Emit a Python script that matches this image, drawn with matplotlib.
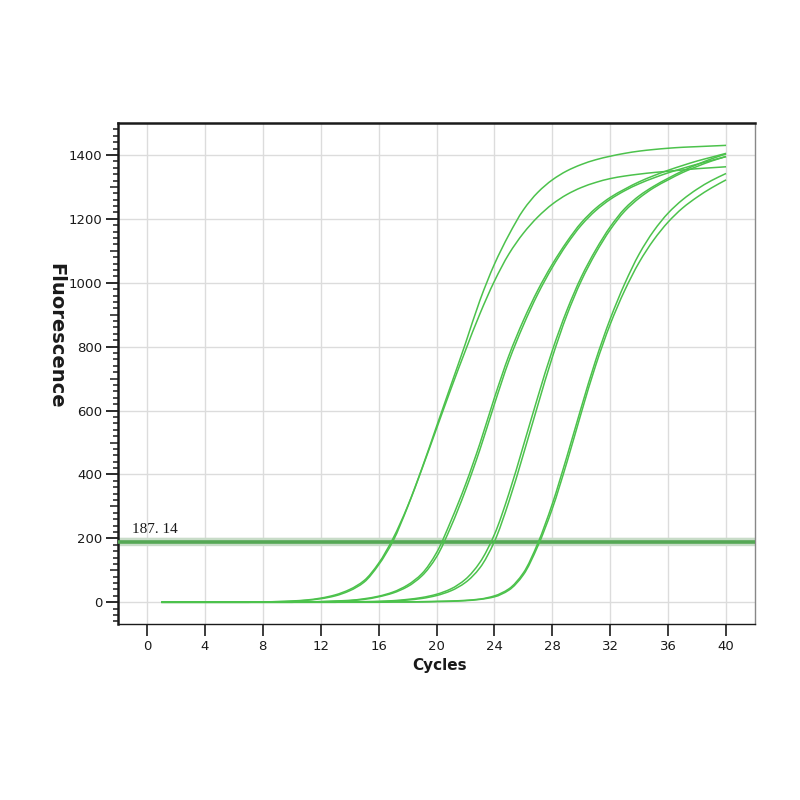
import matplotlib
matplotlib.use("Agg")
import numpy as np
import matplotlib.pyplot as plt
from matplotlib.ticker import FixedLocator
from matplotlib.path import Path
from matplotlib.patches import PathPatch

cycles = list(range(1, 41))

curve_a1 = [0, 0, 0, 0, 0, 0, 0, 1, 2, 4, 7, 13, 23, 40, 68, 122, 200, 300, 420, 550,
            680, 810, 945, 1058, 1150, 1228, 1283, 1322, 1350, 1370, 1385, 1396, 1405,
            1412, 1417, 1421, 1424, 1426, 1428, 1430]
curve_a2 = [0, 0, 0, 0, 0, 0, 0, 1, 2, 3, 6, 11, 20, 36, 63, 117, 192, 298, 418, 543,
            668, 788, 903, 1005, 1090, 1155, 1206, 1246, 1276, 1298, 1314, 1326, 1334,
            1340, 1345, 1349, 1353, 1357, 1360, 1363]
curve_b1 = [0, 0, 0, 0, 0, 0, 0, 0, 0, 0, 1, 2, 4, 6, 11, 19, 32, 54, 90, 155,
            255, 368, 497, 640, 772, 882, 977, 1058, 1128, 1188, 1233, 1267, 1293,
            1316, 1335, 1352, 1367, 1381, 1393, 1405]
curve_b2 = [0, 0, 0, 0, 0, 0, 0, 0, 0, 0, 1, 2, 3, 5, 9, 17, 29, 49, 83, 142,
            237, 350, 478, 620, 755, 867, 965, 1048, 1120, 1180, 1226, 1261, 1288,
            1310, 1328, 1344, 1358, 1371, 1383, 1395]
curve_c1 = [0, 0, 0, 0, 0, 0, 0, 0, 0, 0, 0, 0, 0, 1, 2, 3, 5, 9, 15, 25,
            42, 72, 125, 212, 340, 490, 643, 788, 913, 1018, 1103, 1175, 1232,
            1272, 1302, 1327, 1350, 1370, 1388, 1403]
curve_c2 = [0, 0, 0, 0, 0, 0, 0, 0, 0, 0, 0, 0, 0, 1, 1, 2, 4, 7, 12, 21,
            36, 62, 108, 190, 315, 463, 617, 767, 898, 1006, 1093, 1166, 1224,
            1265, 1297, 1322, 1345, 1364, 1381, 1395]
curve_d1 = [0, 0, 0, 0, 0, 0, 0, 0, 0, 0, 0, 0, 0, 0, 0, 0, 1, 1, 2, 3,
            4, 6, 10, 20, 42, 92, 185, 308, 455, 610, 758, 887, 997,
            1090, 1162, 1218, 1260, 1293, 1320, 1342]
curve_d2 = [0, 0, 0, 0, 0, 0, 0, 0, 0, 0, 0, 0, 0, 0, 0, 0, 1, 1, 1, 2,
            3, 5, 9, 17, 38, 86, 176, 293, 437, 593, 742, 870, 976,
            1064, 1134, 1190, 1234, 1268, 1297, 1322]

curves = [curve_a1, curve_a2, curve_b1, curve_b2, curve_c1, curve_c2, curve_d1, curve_d2]

threshold = 187.14
threshold_label = "187. 14"
x_ticks = [0, 4, 8, 12, 16, 20, 24, 28, 32, 36, 40]
y_ticks = [0, 200, 400, 600, 800, 1000, 1200, 1400]
x_label = "Cycles"
y_label = "Fluorescence"


def smooth_path(xs, ys):
    """Cubic Bezier path through the data points (monotone tangents)."""
    x = np.asarray(xs, float)
    y = np.asarray(ys, float)
    h = np.diff(x)
    d = np.diff(y) / h
    m = np.zeros_like(y)
    for i in range(1, len(y) - 1):
        if d[i - 1] * d[i] > 0:
            m[i] = 2.0 / (1.0 / d[i - 1] + 1.0 / d[i])
        else:
            m[i] = 0.0
    m[0] = d[0]
    m[-1] = d[-1]
    verts = [(x[0], y[0])]
    codes = [Path.MOVETO]
    for i in range(len(x) - 1):
        verts += [(x[i] + h[i] / 3, y[i] + m[i] * h[i] / 3),
                  (x[i + 1] - h[i] / 3, y[i + 1] - m[i + 1] * h[i] / 3),
                  (x[i + 1], y[i + 1])]
        codes += [Path.CURVE4] * 3
    return Path(verts, codes)


fig = plt.figure(figsize=(8, 8), dpi=100)
ax = fig.add_axes([0.1475, 0.22, 0.79625, 0.62625])

ax.set_xlim(-2, 42)
ax.set_ylim(-68, 1500)

ax.set_xticks(x_ticks)
ax.set_yticks(y_ticks)
ax.yaxis.set_minor_locator(FixedLocator([v for v in range(-60, 1500, 20) if v % 100 != 0]))
ax.grid(True, which="major", color="#dcdcdc", linewidth=1.0, zorder=0)
ax.set_axisbelow(True)

for spine in ["left", "top"]:
    ax.spines[spine].set_color("#1a1a1a")
    ax.spines[spine].set_linewidth(1.8)
ax.spines["bottom"].set_color("#1a1a1a")
ax.spines["bottom"].set_linewidth(1.0)
ax.spines["right"].set_color("#888888")
ax.spines["right"].set_linewidth(1.0)

ax.tick_params(axis="x", which="major", direction="out", length=8.5, width=1.2,
               labelsize=9.5, pad=3, colors="#1a1a1a")
ax.tick_params(axis="y", which="major", direction="out", length=8.5, width=1.3,
               labelsize=9.5, pad=3, colors="#1a1a1a")
ax.tick_params(axis="y", which="minor", direction="out", length=3.6, width=1.1,
               colors="#1a1a1a")

sec = ax.secondary_yaxis("left")
sec.set_yticks([v for v in range(-100, 1500, 200) if v > -68])
sec.tick_params(axis="y", direction="out", length=5.5, width=1.1, labelleft=False,
                colors="#1a1a1a")
sec.spines["left"].set_visible(False)

ax.axhline(threshold, color="#c8dcc8", linewidth=6, zorder=2)
ax.axhline(threshold, color="#55a855", linewidth=2.6, zorder=3)
ax.text(-1.05, threshold + 20, threshold_label, family="Liberation Serif",
        fontsize=11, ha="left", va="bottom", color="#1a1a1a")

for ys in curves:
    ax.add_patch(PathPatch(smooth_path(cycles, ys), fill=False,
                           edgecolor="#4cc24c", linewidth=1.1, zorder=4))

ax.set_xlabel(x_label, fontsize=11, fontweight="bold", labelpad=0, color="#1a1a1a")
ax.xaxis.set_label_coords(0.505, -0.067)
ax.set_ylabel(y_label, fontsize=14, fontweight="bold", rotation=-90, color="#1a1a1a",
              va="center")
ax.yaxis.set_label_coords(-0.097, 0.575)

fig.savefig("out.png", dpi=100)
